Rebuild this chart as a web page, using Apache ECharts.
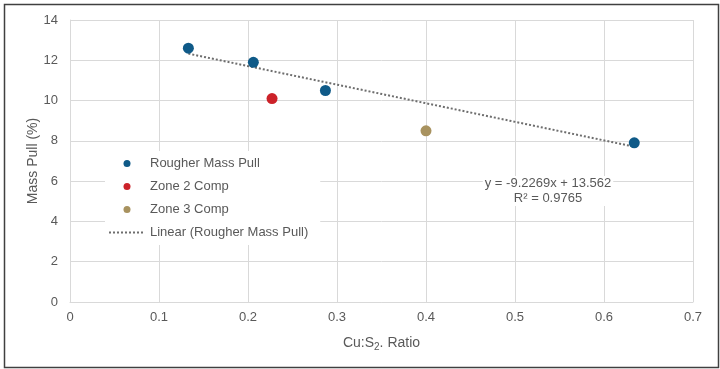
<!DOCTYPE html>
<html><head><meta charset="utf-8">
<script src="https://cdn.jsdelivr.net/npm/echarts@6/dist/echarts.min.js"></script>
<style>html,body{margin:0;padding:0;background:#fff}#c{width:720px;height:369px}</style>
</head><body><div id="c"></div>
<script>
var rougher = [[0.133, 12.6], [0.206, 11.9], [0.287, 10.5], [0.634, 7.9]];
var zone2 = [[0.227, 10.1]];
var zone3 = [[0.400, 8.5]];
var trend = [[0.133, 12.33], [0.634, 7.71]];
var xTicks = [0, 0.1, 0.2, 0.3, 0.4, 0.5, 0.6, 0.7];
var yTicks = [0, 2, 4, 6, 8, 10, 12, 14];
var eqText = ['y = -9.2269x + 13.562', 'R² = 0.9765'];

var chart = echarts.init(document.getElementById('c'));
var txt = '#595959', font = 'Liberation Sans, Arial, sans-serif';
var dot = 'path://M0,0M36,12M14.5,6a3.5,3.5 0 1,0 7,0a3.5,3.5 0 1,0 -7,0z';
var dots = 'path://M0,0M36,12';
for (var i = 0; i < 9; i++) { dots += 'M' + (i * 4) + ',5h2v2h-2z'; }
chart.setOption({
  animation: false,
  textStyle: {fontFamily: font},
  grid: {left: 70, right: 27, top: 20, bottom: 67},
  xAxis: {
    type: 'value', min: 0, max: 0.7, interval: 0.1,
    axisLine: {show: true, lineStyle: {color: '#d9d9d9'}},
    axisTick: {show: false},
    splitLine: {show: true, lineStyle: {color: '#d9d9d9'}},
    axisLabel: {color: txt, fontSize: 13, margin: 9, formatter: function(v){ return xTicks.indexOf(+v.toFixed(1)) >= 0 ? String(+v.toFixed(1)) : ''; }},
    name: '{a|Cu:S}{s|2}{a|. Ratio}', nameLocation: 'middle', nameGap: 33, nameMoveOverlap: false,
    nameTextStyle: {rich: {a: {color: txt, fontSize: 14, fontFamily: font}, s: {color: txt, fontSize: 10, fontFamily: font, verticalAlign: 'bottom', padding: [7, 0, 0, 0]}}}
  },
  yAxis: {
    type: 'value', min: 0, max: 14, interval: 2,
    axisLine: {show: true, lineStyle: {color: '#d9d9d9'}},
    axisTick: {show: false},
    splitLine: {show: true, lineStyle: {color: '#d9d9d9'}},
    axisLabel: {color: txt, fontSize: 13, margin: 12, formatter: function(v){ return yTicks.indexOf(v) >= 0 ? String(v) : ''; }},
    name: 'Mass Pull (%)', nameLocation: 'middle', nameGap: 30, nameMoveOverlap: false,
    nameTextStyle: {color: txt, fontSize: 14}
  },
  legend: {
    orient: 'vertical', left: 105, top: 151, itemGap: 10,
    backgroundColor: '#ffffff', padding: [6, 12, 6, 4],
    itemWidth: 36, itemHeight: 12,
    textStyle: {color: txt, fontSize: 13, fontFamily: font},
    data: [
      {name: 'Rougher Mass Pull', icon: dot},
      {name: 'Zone 2 Comp', icon: dot},
      {name: 'Zone 3 Comp', icon: dot},
      {name: 'Linear (Rougher Mass Pull)', icon: dots, itemStyle: {color: '#6e6e6e'}}
    ]
  },
  graphic: [
    {type: 'text', x: 548, y: 176, z: 100, style: {text: eqText.join('\n'), fill: txt, font: '13px ' + font, align: 'center', lineHeight: 15, backgroundColor: '#ffffff', padding: [0, 2]}},
    {type: 'rect', left: 2, top: 2, z: 100, shape: {width: 714, height: 363}, style: {fill: 'none', stroke: '#404040', lineWidth: 1.5}, silent: true}
  ],
  series: [
    {name: 'Linear (Rougher Mass Pull)', type: 'line', data: trend, symbol: 'none', z: 1,
     lineStyle: {color: '#6e6e6e', width: 2, type: [2, 2]}, itemStyle: {color: '#6e6e6e'}},
    {name: 'Rougher Mass Pull', type: 'scatter', data: rougher, symbolSize: 11, z: 3, itemStyle: {color: '#0f5a88', opacity: 1}},
    {name: 'Zone 2 Comp', type: 'scatter', data: zone2, symbolSize: 11, z: 3, itemStyle: {color: '#cc2229', opacity: 1}},
    {name: 'Zone 3 Comp', type: 'scatter', data: zone3, symbolSize: 11, z: 3, itemStyle: {color: '#a8925f', opacity: 1}}
  ]
});
</script></body></html>
